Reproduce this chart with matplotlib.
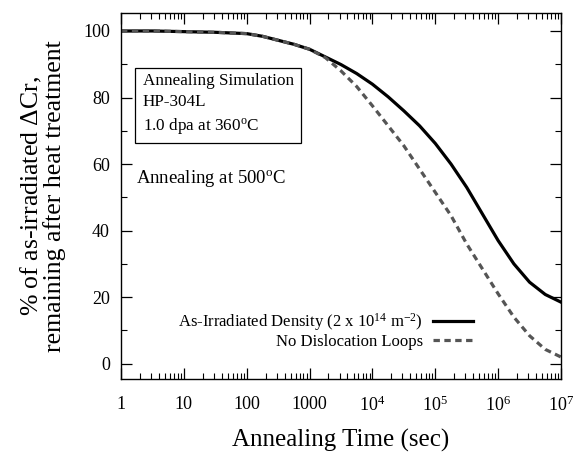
import matplotlib
matplotlib.use('Agg')
import matplotlib.pyplot as plt
import numpy as np

plt.rcParams['font.family'] = ['Liberation Serif', 'DejaVu Serif']
plt.rcParams['mathtext.fontset'] = 'custom'
plt.rcParams['mathtext.rm'] = 'Liberation Serif'
plt.rcParams['mathtext.it'] = 'Liberation Serif:italic'

# annealing time (sec) and % of as-irradiated delta Cr remaining
time_sec = [1, 3.16, 10, 31.6, 100, 178, 316, 562, 1000, 1780, 3160, 5620,
            1e4, 1.78e4, 3.16e4, 5.62e4, 1e5, 1.78e5, 3.16e5, 5.62e5,
            1e6, 1.78e6, 3.16e6, 5.62e6, 1e7]
pct_solid = [100, 100, 99.8, 99.6, 99.2, 98.4, 97.2, 96.0, 94.5, 92.2, 89.9,
             87.2, 84.0, 80.2, 76.0, 71.5, 66.2, 60.0, 53.0, 45.0, 37.0, 30.0,
             24.5, 20.8, 18.5]
pct_dash = [100, 100, 99.8, 99.6, 99.2, 98.4, 97.2, 96.0, 94.5, 92.0, 88.0,
            83.3, 77.5, 71.5, 65.5, 58.5, 51.5, 44.5, 36.0, 28.5, 21.0, 14.0,
            8.4, 4.3, 2.0]

xticks = [1, 10, 100, 1000, 1e4, 1e5, 1e6, 1e7]
xticklabels = ['1', '10', '100', '1000', r'$10^4$', r'$10^5$', r'$10^6$', r'$10^7$']

fig = plt.figure(figsize=(5.74, 4.54), dpi=100)
ax = fig.add_axes([121 / 574, 1 - 379 / 454, 440 / 574, 366 / 454])

ax.plot(time_sec, pct_solid, color='black', lw=2.3, solid_joinstyle='round',
        label=r'As-Irradiated Density (2 x 10$^{14}$ m$^{-2}$)')
ax.plot(time_sec, pct_dash, color='#555555', lw=2.3, linestyle=(0, (2.0, 1.4)),
        label='No Dislocation Loops')

ax.set_xscale('log')
ax.set_xlim(1, 1e7)
ax.set_ylim(-4.6, 105.4)
ax.set_xticks(xticks)
ax.set_xticklabels(xticklabels)
ax.set_yticks([0, 20, 40, 60, 80, 100])
ax.set_yticks(np.arange(0, 101, 10), minor=True)
ax.xaxis.set_minor_locator(matplotlib.ticker.LogLocator(base=10, subs=np.arange(2, 10)))
ax.xaxis.set_minor_formatter(matplotlib.ticker.NullFormatter())
ax.tick_params(which='both', direction='in', top=True, right=True, labelsize=13)
ax.tick_params(which='major', length=8, width=0.9)
ax.tick_params(which='minor', length=4, width=0.8)
ax.tick_params(axis='x', which='major', pad=12)
ax.tick_params(axis='y', which='major', pad=8)
for s in ax.spines.values():
    s.set_linewidth(1.0)

ax.set_xlabel('Annealing Time (sec)', fontsize=18, labelpad=10)
ax.set_ylabel('% of as-irradiated $\\Delta$Cr,\nremaining after heat treatment',
              fontsize=18.5, labelpad=12, linespacing=0.95)

ax.text(0.049, 0.835, 'Annealing Simulation\nHP-304L\n1.0 dpa at 360$^{\\rm o}$C',
        transform=ax.transAxes, fontsize=12.3, va='top', ha='left', linespacing=1.4,
        bbox=dict(boxstyle='square,pad=0.45', fc='white', ec='black', lw=0.9))
ax.text(0.035, 0.548, 'Annealing at 500$^{\\rm o}$C', transform=ax.transAxes,
        fontsize=13.5, va='center', ha='left')

ax.legend(loc='lower right', bbox_to_anchor=(0.80, 0.08), frameon=False,
          markerfirst=False, fontsize=12, handlelength=2.4, handletextpad=0.6,
          borderaxespad=0, borderpad=0, labelspacing=0.05)

fig.savefig('out.png', dpi=100)
